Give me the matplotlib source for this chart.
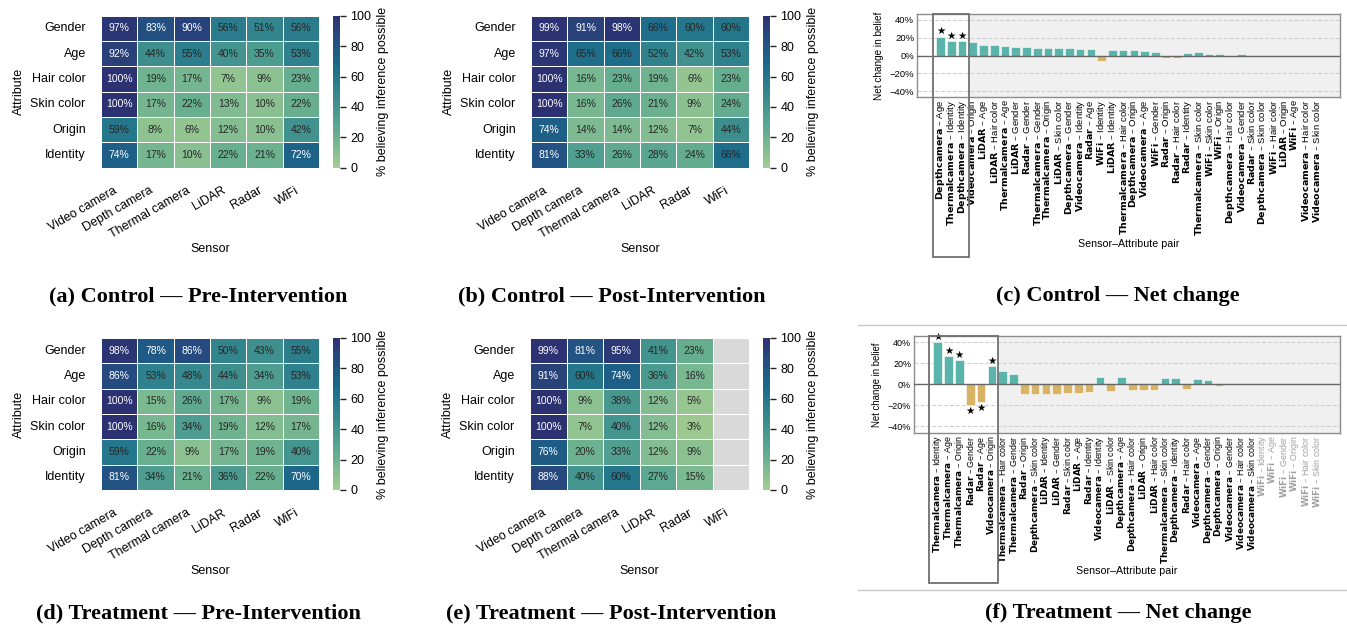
import numpy as np
import matplotlib
matplotlib.use("Agg")
import matplotlib.pyplot as plt
import seaborn as sns
from matplotlib.patches import Rectangle
from matplotlib.lines import Line2D
from matplotlib.transforms import blended_transform_factory

plt.rcParams['font.family'] = ['Liberation Sans', 'DejaVu Sans']

sensors = ["Video camera", "Depth camera", "Thermal camera", "LiDAR", "Radar", "WiFi"]
attributes = ["Gender", "Age", "Hair color", "Skin color", "Origin", "Identity"]

control_pre = [
    [97, 83, 90, 56, 51, 56],
    [92, 44, 55, 40, 35, 53],
    [100, 19, 17, 7, 9, 23],
    [100, 17, 22, 13, 10, 22],
    [59, 8, 6, 12, 10, 42],
    [74, 17, 10, 22, 21, 72],
]
control_post = [
    [99, 91, 98, 66, 60, 60],
    [97, 65, 66, 52, 42, 53],
    [100, 16, 23, 19, 6, 23],
    [100, 16, 26, 21, 9, 24],
    [74, 14, 14, 12, 7, 44],
    [81, 33, 26, 28, 24, 66],
]
treat_pre = [
    [98, 78, 86, 50, 43, 55],
    [86, 53, 48, 44, 34, 53],
    [100, 15, 26, 17, 9, 19],
    [100, 16, 34, 19, 12, 17],
    [59, 22, 9, 17, 19, 40],
    [81, 34, 21, 36, 22, 70],
]
nan = float("nan")
treat_post = [
    [99, 81, 95, 41, 23, nan],
    [91, 60, 74, 36, 16, nan],
    [100, 9, 38, 12, 5, nan],
    [100, 7, 40, 12, 3, nan],
    [76, 20, 33, 12, 9, nan],
    [88, 40, 60, 27, 15, nan],
]

control_net_sensors = ["Depthcamera", "Thermalcamera", "Depthcamera", "Videocamera", "LiDAR", "LiDAR",
                       "Thermalcamera", "LiDAR", "Radar", "Thermalcamera", "Thermalcamera", "LiDAR",
                       "Depthcamera", "Videocamera", "Radar", "WiFi", "LiDAR", "Thermalcamera",
                       "Depthcamera", "Videocamera", "WiFi", "Radar", "Radar", "Radar",
                       "Thermalcamera", "WiFi", "WiFi", "Depthcamera", "Videocamera", "Radar",
                       "Depthcamera", "WiFi", "LiDAR", "WiFi", "Videocamera", "Videocamera"]
control_net_attrs = ["Age", "Identity", "Identity", "Origin", "Age", "Hair color",
                     "Age", "Gender", "Gender", "Gender", "Origin", "Skin color",
                     "Gender", "Identity", "Age", "Identity", "Identity", "Hair color",
                     "Origin", "Age", "Gender", "Origin", "Hair color", "Identity",
                     "Skin color", "Skin color", "Origin", "Hair color", "Gender", "Skin color",
                     "Skin color", "Hair color", "Origin", "Age", "Hair color", "Skin color"]
control_net_values = [21, 16, 16, 15, 12, 12, 11, 10, 9, 8, 8, 8, 8, 7, 7, -6, 6, 6,
                      6, 5, 4, -3, -3, 3, 4, 2, 2, -2, 2, -1, -1, 0, 0, 0, 0, 0]
control_net_sig = [True, True, True] + [False] * 33

treat_net_sensors = ["Thermalcamera", "Thermalcamera", "Thermalcamera", "Radar", "Radar", "Videocamera",
                     "Thermalcamera", "Thermalcamera", "Radar", "Depthcamera", "LiDAR", "LiDAR",
                     "Radar", "LiDAR", "Radar", "Videocamera", "LiDAR", "Depthcamera",
                     "Depthcamera", "LiDAR", "LiDAR", "Thermalcamera", "Depthcamera", "Radar",
                     "Videocamera", "Depthcamera", "Depthcamera", "Videocamera", "Videocamera", "Videocamera",
                     "WiFi", "WiFi", "WiFi", "WiFi", "WiFi", "WiFi"]
treat_net_attrs = ["Identity", "Age", "Origin", "Gender", "Age", "Origin",
                   "Hair color", "Gender", "Origin", "Skin color", "Identity", "Gender",
                   "Skin color", "Age", "Identity", "Identity", "Skin color", "Age",
                   "Hair color", "Origin", "Hair color", "Skin color", "Identity", "Hair color",
                   "Age", "Gender", "Origin", "Gender", "Hair color", "Skin color",
                   "Identity", "Age", "Gender", "Origin", "Hair color", "Skin color"]
treat_net_values = [40, 27, 23, -20, -17, 17, 13, 10, -9, -9, -9, -9, -8, -8, -7, 7, -6, 7,
                    -5, -5, -5, 6, 6, -4, 5, 4, -2, 1, 0, 0, nan, nan, nan, nan, nan, nan]
treat_net_sig = [True] * 6 + [False] * 30

W, H = 1347, 632
fig = plt.figure(figsize=(W / 100, H / 100), dpi=100)


def ax_px(l, t, r, b):
    return fig.add_axes([l / W, 1 - b / H, (r - l) / W, (b - t) / H])


cmap = sns.color_palette("crest", as_cmap=True)


def heat(data, hx, cx, top, bottom):
    ax = ax_px(hx[0], top, hx[1], bottom)
    cax = ax_px(cx[0], top, cx[1], bottom)
    arr = np.array(data, dtype=float)
    ax.set_facecolor("#d9d9d9")
    sns.heatmap(arr, ax=ax, cbar_ax=cax, cmap=cmap, vmin=0, vmax=100,
                annot=False, linewidths=0.6, linecolor="white",
                xticklabels=sensors, yticklabels=attributes,
                cbar_kws={"ticks": [0, 20, 40, 60, 80, 100]})
    for i in range(arr.shape[0]):
        for j in range(arr.shape[1]):
            v = arr[i, j]
            if np.isnan(v):
                continue
            ax.text(j + 0.5, i + 0.5, f"{v:.0f}%", ha="center", va="center", fontsize=7.5,
                    color="white" if v >= 68 else "#262626")
    ax.tick_params(axis="x", length=0, labelsize=9, pad=12)
    ax.tick_params(axis="y", length=0, labelsize=9, pad=11)
    ax.set_yticklabels(attributes, rotation=0)
    ax.set_xticklabels(sensors, rotation=30, ha="right")
    ax.set_xlabel("Sensor", fontsize=9, labelpad=2)
    ax.set_ylabel("Attribute", fontsize=9)
    cax.tick_params(length=4, width=1, color="#222222", labelsize=9)
    cax.set_ylabel("% believing inference possible", fontsize=9)
    return ax


heat(control_pre, (101, 319), (333, 340), 15.7, 167.7)
heat(control_post, (531, 749), (763, 770), 15.7, 167.7)
heat(treat_pre, (101, 319), (333, 340), 338, 490)
heat(treat_post, (530, 749), (763, 770), 338, 490)

POS = "#5ab4ac"
NEG = "#d8b365"


def netbar(box, sens, attrs, values, sig, rect_x, rect_bottom, label_fs, tick_fs, ylab_fs):
    left, top, right, bottom = box
    ax = ax_px(left, top, right, bottom)
    ax.set_facecolor("#f0f0f0")
    vals = np.array(values, dtype=float)
    x = np.arange(len(vals))
    ok = ~np.isnan(vals)
    cols = [POS if v >= 0 else NEG for v in vals[ok]]
    ax.bar(x[ok], vals[ok], width=0.8, color=cols, edgecolor="white", linewidth=0.4, zorder=3)
    for xi, v, s in zip(x, vals, sig):
        if s:
            if v >= 0:
                ax.text(xi, v + 0.3, "★", ha="center", va="bottom", fontsize=7.5, family="DejaVu Sans", zorder=5)
            else:
                ax.text(xi, v - 0.3, "★", ha="center", va="top", fontsize=7.5, family="DejaVu Sans", zorder=5)
    ax.set_xlim(-2.2, len(vals) + 1.2)
    ax.set_ylim(-46, 46)
    ax.axvspan(-2.2, rect_x[1], color="white", zorder=0)
    ax.set_yticks([-40, -20, 0, 20, 40])
    ax.set_yticklabels([f"{v}%".replace("-", "\u2212") for v in [-40, -20, 0, 20, 40]])
    for yv in [-40, -20, 20, 40]:
        ax.axhline(yv, color="#d0d0d0", ls="--", lw=0.8, zorder=1)
    ax.axhline(0, color="#666666", lw=1, zorder=4)
    labels = [r"$\bf{" + s + "}$ \u2013 " + a for s, a in zip(sens, attrs)]
    ax.set_xticks(x)
    ax.set_xticklabels(labels, rotation=90, fontsize=label_fs)
    for t, v in zip(ax.get_xticklabels(), vals):
        if np.isnan(v):
            t.set_color("#a0a0a0")
    ax.tick_params(length=0, pad=2)
    ax.tick_params(axis="y", labelsize=tick_fs)
    for sp in ax.spines.values():
        sp.set_color("#8c8c8c")
        sp.set_linewidth(1)
    ax.set_ylabel("Net change in belief", fontsize=ylab_fs)
    ax.set_xlabel("Sensor\u2013Attribute pair", fontsize=7.7, labelpad=2)
    tr = blended_transform_factory(ax.transData, fig.transFigure)
    y0 = 1 - rect_bottom / H
    y1 = 1 - top / H
    ax.add_patch(Rectangle((rect_x[0], y0), rect_x[1] - rect_x[0], y1 - y0, transform=tr,
                           fill=False, edgecolor="#707070", lw=1.3, clip_on=False, zorder=6))
    return ax


netbar((917, 14.3, 1340, 96.7), control_net_sensors, control_net_attrs, control_net_values,
       control_net_sig, (-0.7, 2.6), 257, 6.8, 6.8, 7.2)
netbar((914, 336, 1340, 432.7), treat_net_sensors, treat_net_attrs, treat_net_values,
       treat_net_sig, (-0.8, 5.6), 583, 6.4, 6.5, 6.9)

for yy in [325, 590]:
    fig.add_artist(Line2D([858 / W, 1], [1 - yy / H, 1 - yy / H], color="#c8c8c8", lw=1))

captions = [
    (198, 296, "(a) Control \u2014 Pre-Intervention"),
    (612, 296, "(b) Control \u2014 Post-Intervention"),
    (1118, 296, "(c) Control \u2014 Net change"),
    (198, 613, "(d) Treatment \u2014 Pre-Intervention"),
    (611, 613, "(e) Treatment \u2014 Post-Intervention"),
    (1118, 613, "(f) Treatment \u2014 Net change"),
]
for cx, cy, txt in captions:
    fig.text(cx / W, 1 - cy / H, txt, ha="center", va="center", fontsize=16,
             fontweight="bold", family="Liberation Serif")

fig.savefig("out.png", dpi=100)
